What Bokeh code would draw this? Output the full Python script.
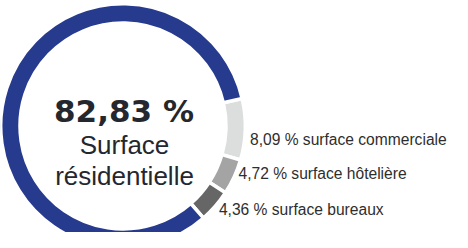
import math
from bokeh.plotting import figure
from bokeh.models import Range1d, ColumnDataSource
from bokeh.core.properties import value
from bokeh.embed import file_html
from bokeh.resources import INLINE

# ---- data ----
categories = ["surface commerciale", "surface hôtelière", "surface bureaux", "Surface résidentielle"]
shares = [8.09, 4.72, 4.36, 82.83]
share_labels = ["8,09 %", "4,72 %", "4,36 %", "82,83 %"]
colors = ["#DCDDDD", "#A4A4A4", "#666666", "#263A8E"]

# ---- layout constants ----
W, H = 452, 232
CX, CY = 122.5, 106.5          # donut centre (data units == px)
R_OUT, R_IN = 122.3, 103.0
START_DEG = 13.0
LABEL_R = 127.0
label_dy = [-10, 5, 0]          # vertical nudges (px) for outer labels

p = figure(width=W, height=H, output_backend="svg", toolbar_location=None,
           x_range=Range1d(0, W), y_range=Range1d(0, H), min_border=0)
p.axis.visible = False
p.grid.visible = False
p.outline_line_color = None
p.background_fill_color = "white"
p.border_fill_color = "white"

total = sum(shares)
starts, ends, mids = [], [], []
acc = 0.0
for s in shares:
    a0 = START_DEG - acc / total * 360.0
    a1 = a0 - s / total * 360.0
    starts.append(math.radians(a0))
    ends.append(math.radians(a1))
    mids.append(math.radians((a0 + a1) / 2))
    acc += s

src = ColumnDataSource(dict(x=[CX] * len(shares), y=[CY] * len(shares),
                            start=starts, end=ends, color=colors))
p.annular_wedge(x="x", y="y", inner_radius=R_IN, outer_radius=R_OUT,
                inner_radius_units="screen", outer_radius_units="screen",
                start_angle="start", end_angle="end", direction="clock",
                fill_color="color", line_color="white", line_width=3.5, source=src)

# outer labels for the small segments
lx, ly, lt = [], [], []
for i in range(3):
    lx.append(CX + LABEL_R * math.cos(mids[i]))
    ly.append(CY + LABEL_R * math.sin(mids[i]) + label_dy[i])
    lt.append(f"{share_labels[i]} {categories[i]}")
p.text(x=lx, y=ly, text=lt, text_align="left", text_baseline="middle",
       text_font=value("Liberation Sans"), text_font_size="15.6px", text_color="#2E2E2E")

# centre text
p.text(x=[CX + 1], y=[CY + 15.5], text=[share_labels[3]], text_align="center",
       text_baseline="alphabetic", text_font=value("DejaVu Sans"), text_font_style="bold",
       text_font_size="31px", text_color="#24272E")
main_words = categories[3].split(" ")
p.text(x=[CX + 1.5, CX + 1.5], y=[CY - 19, CY - 50], text=main_words, text_align="center",
       text_baseline="alphabetic", text_font=value("Liberation Sans"),
       text_font_size="26px", text_color="#24272E")

open("out.html", "w").write(file_html(p, INLINE))
